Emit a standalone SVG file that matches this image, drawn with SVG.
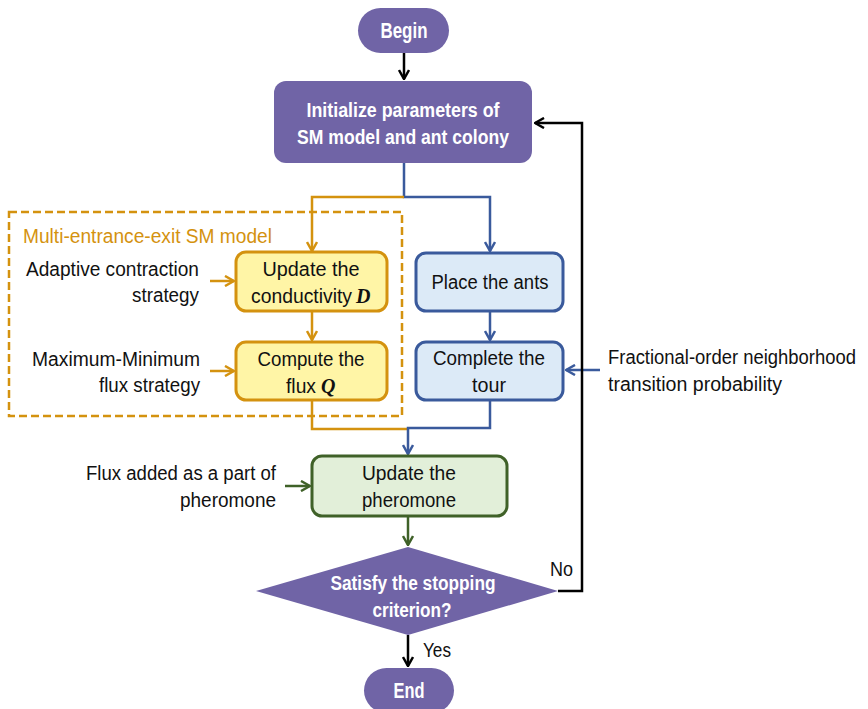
<svg xmlns="http://www.w3.org/2000/svg" width="868" height="709" viewBox="0 0 868 709">
<defs>
<style>
text{font-family:"Liberation Sans",Arial,sans-serif;font-size:20px}
.w{fill:#fff;font-weight:bold}
.k{fill:#111}
.c{text-anchor:middle}
.r{text-anchor:end}
.big{font-size:22px}
.purple{fill:#7064a6}
.line{fill:none;stroke-width:2.5}
.or{stroke:#d4920f}
.bl{stroke:#3a5a9c}
.gr{stroke:#3f6128}
.bk{stroke:#000}
.m{font-family:"Liberation Serif",serif;font-style:italic;font-weight:bold;fill:#111}
</style>
<marker id="aK" viewBox="0 0 12 12" refX="11" refY="6" markerWidth="12" markerHeight="12" markerUnits="userSpaceOnUse" orient="auto"><path d="M2,1 L11,6 L2,11" fill="none" stroke="#000" stroke-width="2.5"/></marker>
<marker id="aO" viewBox="0 0 12 12" refX="11" refY="6" markerWidth="12" markerHeight="12" markerUnits="userSpaceOnUse" orient="auto"><path d="M2,1 L11,6 L2,11" fill="none" stroke="#d4920f" stroke-width="2.5"/></marker>
<marker id="aB" viewBox="0 0 12 12" refX="11" refY="6" markerWidth="12" markerHeight="12" markerUnits="userSpaceOnUse" orient="auto"><path d="M2,1 L11,6 L2,11" fill="none" stroke="#3a5a9c" stroke-width="2.5"/></marker>
<marker id="aG" viewBox="0 0 12 12" refX="11" refY="6" markerWidth="12" markerHeight="12" markerUnits="userSpaceOnUse" orient="auto"><path d="M2,1 L11,6 L2,11" fill="none" stroke="#3f6128" stroke-width="2.5"/></marker>
</defs>

<g id="sm-group">
<rect x="9" y="212" width="393" height="204" fill="none" stroke="#d4920f" stroke-width="2.5" stroke-dasharray="8,4"/>
<text x="23" y="243" fill="#d4920f" textLength="249" lengthAdjust="spacingAndGlyphs">Multi-entrance-exit SM model</text>
</g>

<g id="connectors">
<path class="line bk" d="M404,52 V79" marker-end="url(#aK)"/>
<path class="line bl" d="M404,163 V197 H490 V251" marker-end="url(#aB)"/>
<path class="line or" d="M404,197 H312 V251" marker-end="url(#aO)"/>
<path class="line or" d="M312,311 V340" marker-end="url(#aO)"/>
<path class="line or" d="M210,281 H234" marker-end="url(#aO)"/>
<path class="line or" d="M210,371 H234" marker-end="url(#aO)"/>
<path class="line bl" d="M490,311 V340" marker-end="url(#aB)"/>
<path class="line bl" d="M600,370 H566" marker-end="url(#aB)"/>
<path class="line or" d="M312,400 V429 H408"/>
<path class="line bl" d="M490,400 V428 H408 V454" marker-end="url(#aB)"/>
<path class="line gr" d="M285,486 H310" marker-end="url(#aG)"/>
<path class="line gr" d="M408,516 V545" marker-end="url(#aG)"/>
<path class="line bk" d="M558,591 H582 V123 H535" marker-end="url(#aK)"/>
<path class="line bk" d="M408,635 V666" marker-end="url(#aK)"/>
</g>

<g id="begin">
<rect class="purple" x="358" y="8" width="91" height="45" rx="22.5"/>
<text class="w c big" x="404" y="38" textLength="47" lengthAdjust="spacingAndGlyphs">Begin</text>
</g>

<g id="init">
<rect class="purple" x="274" y="81" width="258" height="82" rx="12"/>
<text class="w c" x="403" y="117" textLength="193" lengthAdjust="spacingAndGlyphs">Initialize parameters of</text>
<text class="w c" x="403" y="144" textLength="212" lengthAdjust="spacingAndGlyphs">SM model and ant colony</text>
</g>

<g id="update-d">
<rect x="236" y="252" width="151" height="59" rx="10" fill="#fff5a6" stroke="#d4920f" stroke-width="3"/>
<text class="k c" x="311" y="276" textLength="97" lengthAdjust="spacingAndGlyphs">Update  the</text>
<text class="k" x="251" y="303" textLength="101" lengthAdjust="spacingAndGlyphs">conductivity</text>
<text class="m" x="356" y="303">D</text>
</g>

<g id="compute-q">
<rect x="236" y="342" width="151" height="58" rx="10" fill="#fff5a6" stroke="#d4920f" stroke-width="3"/>
<text class="k c" x="311" y="366" textLength="107" lengthAdjust="spacingAndGlyphs">Compute the</text>
<text class="k" x="286" y="393" textLength="30" lengthAdjust="spacingAndGlyphs">flux</text>
<text class="m" x="321" y="393">Q</text>
</g>

<g id="adaptive-label">
<text class="k r" x="199" y="276" textLength="173" lengthAdjust="spacingAndGlyphs">Adaptive contraction</text>
<text class="k r" x="199" y="302" textLength="67" lengthAdjust="spacingAndGlyphs">strategy</text>
</g>

<g id="maxmin-label">
<text class="k r" x="200" y="366" textLength="168" lengthAdjust="spacingAndGlyphs">Maximum-Minimum</text>
<text class="k r" x="200" y="392" textLength="101" lengthAdjust="spacingAndGlyphs">flux strategy</text>
</g>

<g id="place">
<rect x="416" y="253" width="147" height="58" rx="10" fill="#dceaf7" stroke="#3a5a9c" stroke-width="3"/>
<text class="k c" x="490" y="289" textLength="117" lengthAdjust="spacingAndGlyphs">Place the ants</text>
</g>

<g id="tour">
<rect x="416" y="342" width="147" height="58" rx="10" fill="#dceaf7" stroke="#3a5a9c" stroke-width="3"/>
<text class="k c" x="489" y="365" textLength="112" lengthAdjust="spacingAndGlyphs">Complete the</text>
<text class="k c" x="489" y="392" textLength="34" lengthAdjust="spacingAndGlyphs">tour</text>
</g>

<g id="fractional-label">
<text class="k" x="608" y="364" font-size="18" textLength="248" lengthAdjust="spacingAndGlyphs">Fractional-order neighborhood</text>
<text class="k" x="608" y="391" textLength="174" lengthAdjust="spacingAndGlyphs">transition probability</text>
</g>

<g id="pheromone">
<rect x="312" y="456" width="195" height="60" rx="10" fill="#e2efd9" stroke="#3f6128" stroke-width="3"/>
<text class="k c" x="409" y="480" textLength="94" lengthAdjust="spacingAndGlyphs">Update  the</text>
<text class="k c" x="409" y="507" textLength="94" lengthAdjust="spacingAndGlyphs">pheromone</text>
</g>

<g id="flux-label">
<text class="k r" x="276" y="480" textLength="190" lengthAdjust="spacingAndGlyphs">Flux added as a part of</text>
<text class="k r" x="276" y="507" textLength="96" lengthAdjust="spacingAndGlyphs">pheromone</text>
</g>

<g id="decision">
<path class="purple" d="M408,547 L558,591 L408,635 L256,591 Z"/>
<text class="w c" x="413" y="590" textLength="165" lengthAdjust="spacingAndGlyphs">Satisfy the stopping</text>
<text class="w c" x="412" y="617" textLength="79" lengthAdjust="spacingAndGlyphs">criterion?</text>
</g>

<text class="k" x="550" y="576" textLength="23" lengthAdjust="spacingAndGlyphs">No</text>
<text class="k" x="423" y="657" textLength="28" lengthAdjust="spacingAndGlyphs">Yes</text>

<g id="end">
<rect class="purple" x="364" y="668" width="90" height="45" rx="22.5"/>
<text class="w c big" x="409" y="698" textLength="31" lengthAdjust="spacingAndGlyphs">End</text>
</g>
</svg>
